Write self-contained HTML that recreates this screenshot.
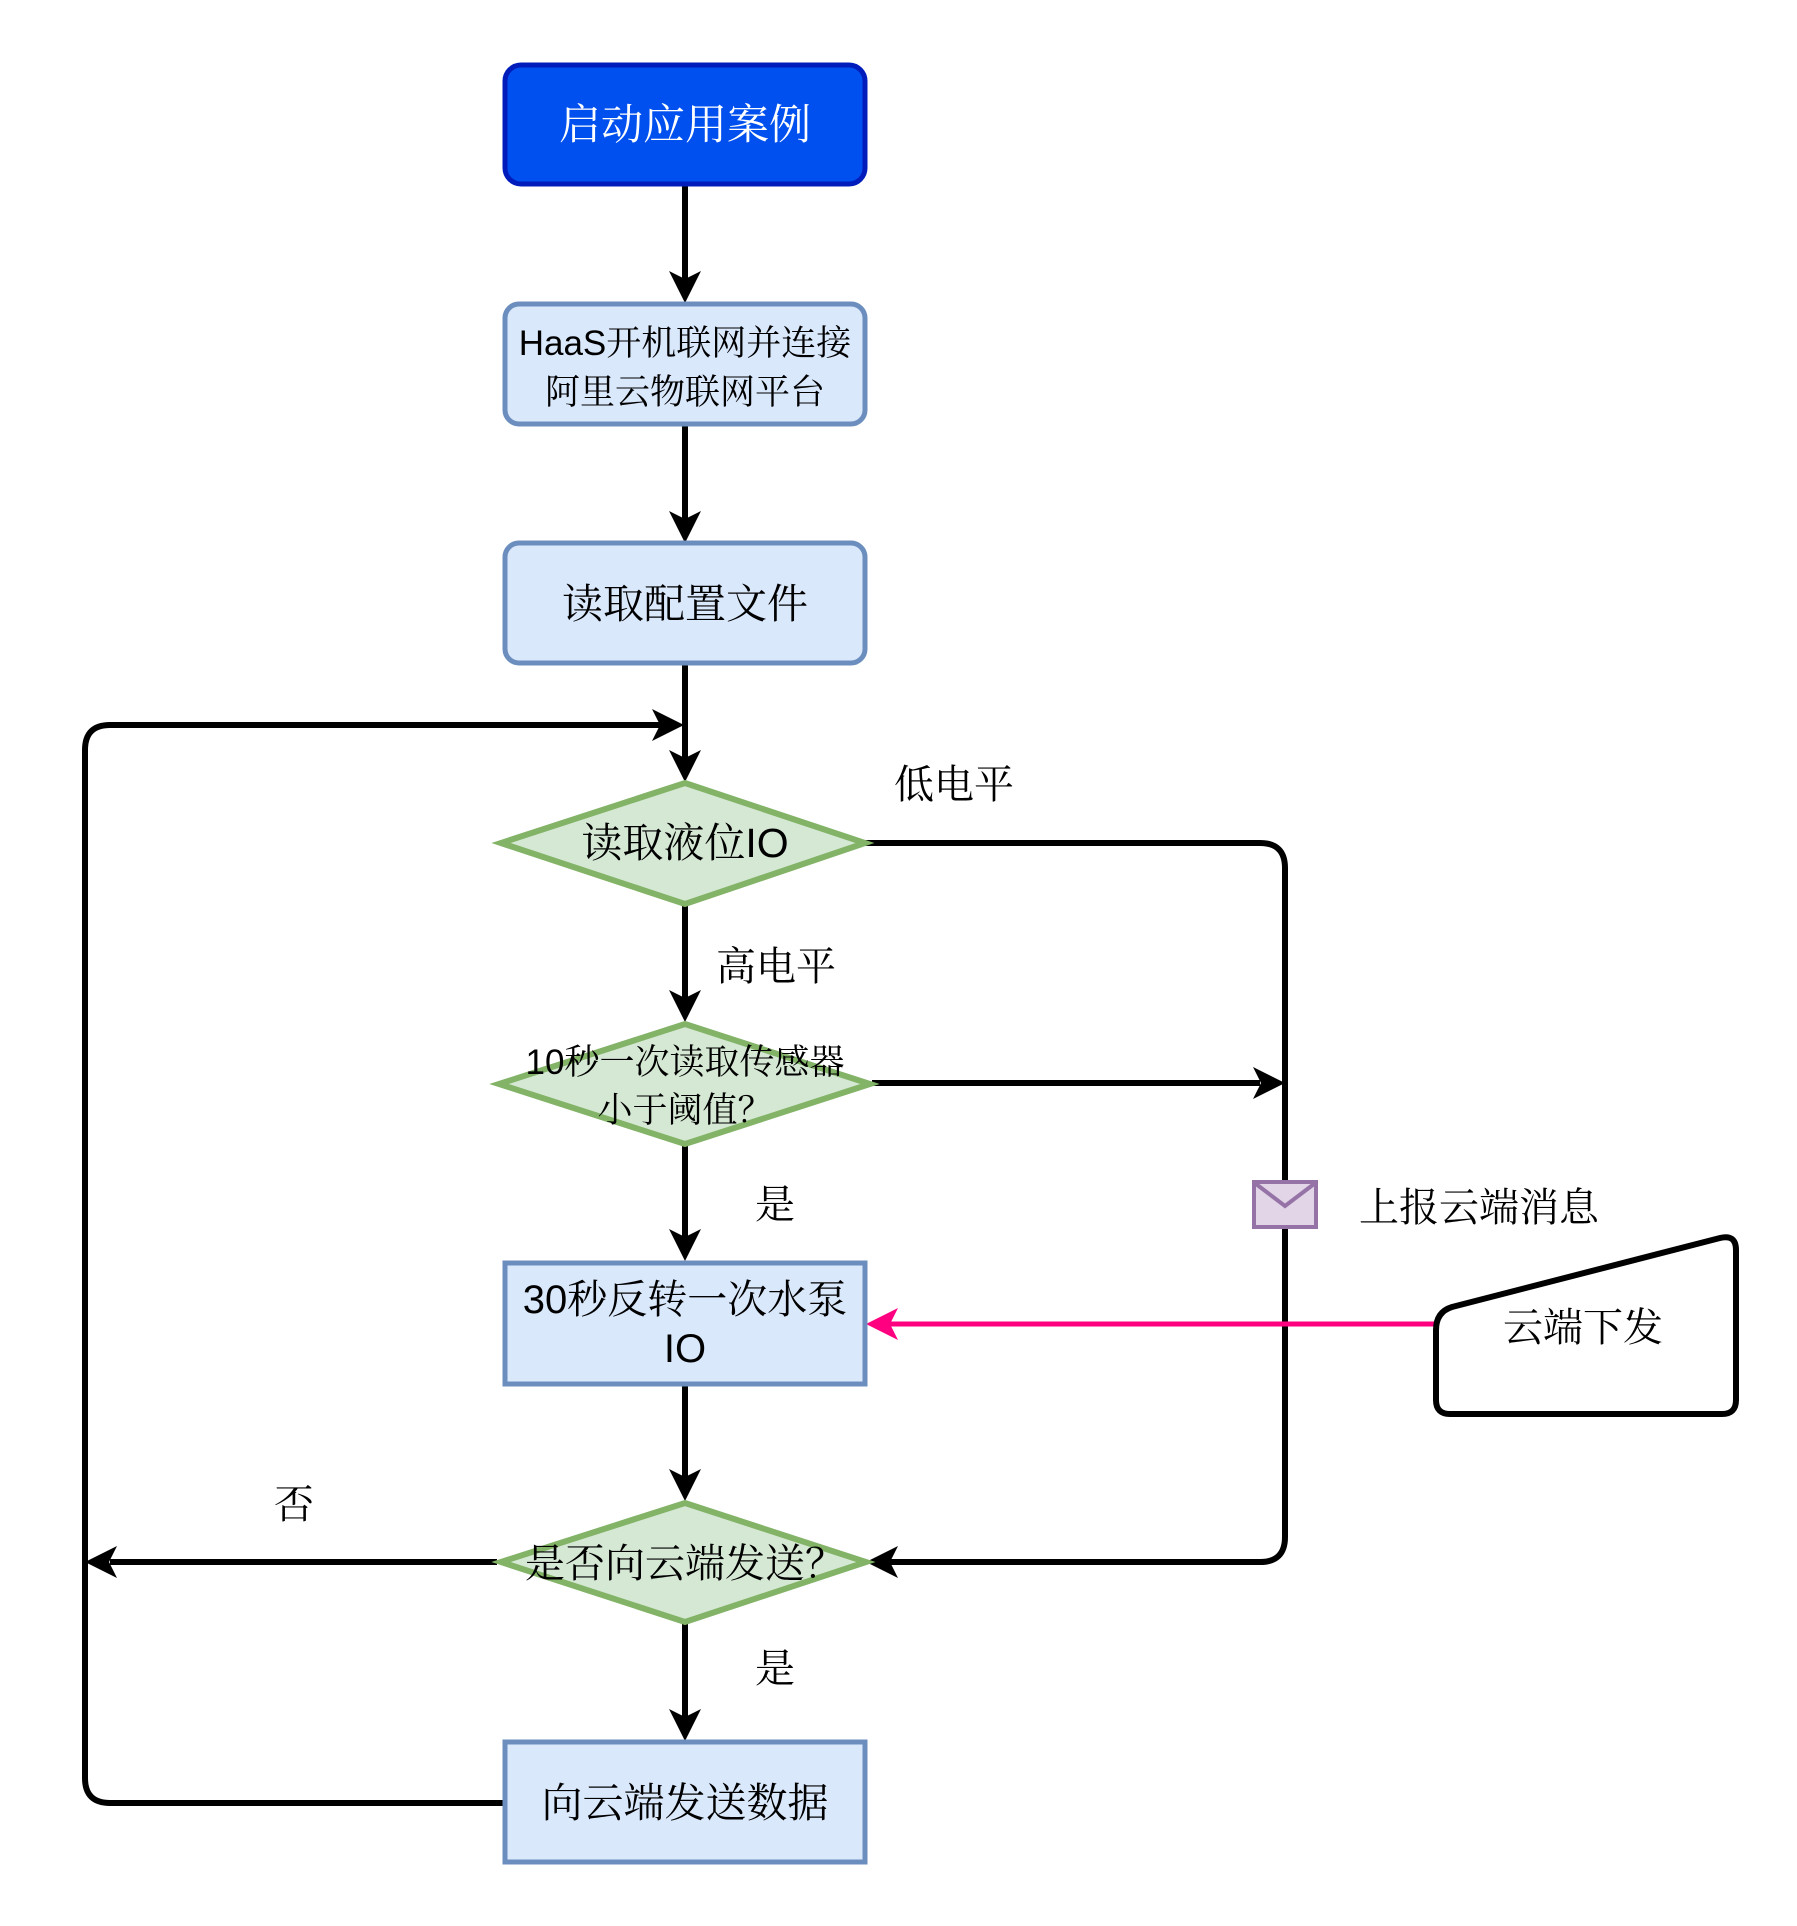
<!DOCTYPE html>
<html><head><meta charset="utf-8"><style>
html,body{margin:0;padding:0;background:#fff;}
svg{display:block;}
text{font-family:"Liberation Sans","Noto Serif CJK SC","Noto Sans CJK SC",serif;fill:#000;}
</style></head><body>
<svg width="1797" height="1926" viewBox="0 0 1797 1926" xmlns="http://www.w3.org/2000/svg">
<g stroke="#000" stroke-width="6" fill="none">
<line x1="685" y1="186" x2="685" y2="280"/>
<line x1="685" y1="424" x2="685" y2="520"/>
<line x1="685" y1="663" x2="685" y2="760"/>
<line x1="685" y1="906" x2="685" y2="1000"/>
<line x1="685" y1="1146" x2="685" y2="1240"/>
<line x1="685" y1="1386" x2="685" y2="1480"/>
<line x1="685" y1="1623" x2="685" y2="1720"/>
<path d="M865 843 H1260 Q1285 843 1285 868 V1537 Q1285 1562 1260 1562 H890"/>
<line x1="872" y1="1083" x2="1260" y2="1083"/>
<line x1="497" y1="1562" x2="110" y2="1562"/>
<path d="M503 1803 H110 Q85 1803 85 1778 V750 Q85 725 110 725 H660"/>
</g>
<g fill="#000">
<path d="M685 303 L669 271 L685 279 L701 271Z"/>
<path d="M685 543 L669 511 L685 519 L701 511Z"/>
<path d="M685 782 L669 750 L685 758 L701 750Z"/>
<path d="M685 1022 L669 990 L685 998 L701 990Z"/>
<path d="M685 1261 L669 1229 L685 1237 L701 1229Z"/>
<path d="M685 1501 L669 1469 L685 1477 L701 1469Z"/>
<path d="M685 1741 L669 1709 L685 1717 L701 1709Z"/>
<path d="M684 725 L652 709 L660 725 L652 741Z"/>
<path d="M1285 1083 L1253 1067 L1261 1083 L1253 1099Z"/>
<path d="M866 1562 L898 1546 L890 1562 L898 1578Z"/>
<path d="M85 1562 L117 1546 L109 1562 L117 1578Z"/>
</g>
<line x1="1435" y1="1324" x2="890" y2="1324" stroke="#FF0080" stroke-width="5"/>
<path d="M866 1324 L898 1308 L890 1324 L898 1340Z" fill="#FF0080"/>
<rect x="505" y="65" width="360" height="119" rx="16" fill="#0050EF" stroke="#001DBC" stroke-width="5"/>
<rect x="505" y="304" width="360" height="120" rx="14" fill="#DAE8FC" stroke="#6C8EBF" stroke-width="5"/>
<rect x="505" y="543" width="360" height="120" rx="14" fill="#DAE8FC" stroke="#6C8EBF" stroke-width="5"/>
<polygon points="685,783 865,843 685,904 501,843" fill="#D5E8D4" stroke="#82B366" stroke-width="6"/>
<polygon points="685,1024 870,1084 685,1144 499,1084" fill="#D5E8D4" stroke="#82B366" stroke-width="6"/>
<rect x="505" y="1263" width="360" height="121" fill="#DAE8FC" stroke="#6C8EBF" stroke-width="5"/>
<polygon points="685,1503 866,1562 685,1622 501,1562" fill="#D5E8D4" stroke="#82B366" stroke-width="6"/>
<rect x="505" y="1742" width="360" height="120" fill="#DAE8FC" stroke="#6C8EBF" stroke-width="5"/>
<rect x="1254" y="1182" width="62" height="45" fill="#E1D5E7" stroke="#9673A6" stroke-width="4"/>
<polyline points="1256,1184 1285,1206 1314,1184" fill="none" stroke="#9673A6" stroke-width="4"/>
<path d="M1452 1307 L1720 1238 Q1736 1234 1736 1250 V1400 Q1736 1414 1722 1414 H1450 Q1436 1414 1436 1400 V1330 Q1436 1312 1452 1307Z" fill="#fff" stroke="#000" stroke-width="6"/>
<g text-anchor="middle" font-size="40">
<text x="685" y="139" style="fill:#fff" font-size="42">启动应用案例</text>
<text x="685" y="355" font-size="35">HaaS开机联网并连接</text>
<text x="685" y="404" font-size="35">阿里云物联网平台</text>
<text x="685" y="618" font-size="41">读取配置文件</text>
<text x="685" y="857" font-size="41">读取液位IO</text>
<text x="685" y="1074" font-size="35">10秒一次读取传感器</text>
<text x="685" y="1122" font-size="35">小于阈值？</text>
<text x="685" y="1313" font-size="40">30秒反转一次水泵</text>
<text x="685" y="1362" font-size="40">IO</text>
<text x="685" y="1577" font-size="40">是否向云端发送？</text>
<text x="685" y="1817" font-size="41">向云端发送数据</text>
<text x="954" y="798" font-size="40">低电平</text>
<text x="776" y="980" font-size="40">高电平</text>
<text x="775" y="1218" font-size="40">是</text>
<text x="775" y="1682" font-size="40">是</text>
<text x="294" y="1518" font-size="40">否</text>
<text x="1479" y="1221" font-size="40">上报云端消息</text>
<text x="1583" y="1341" font-size="40">云端下发</text>
</g>
</svg>
</body></html>
